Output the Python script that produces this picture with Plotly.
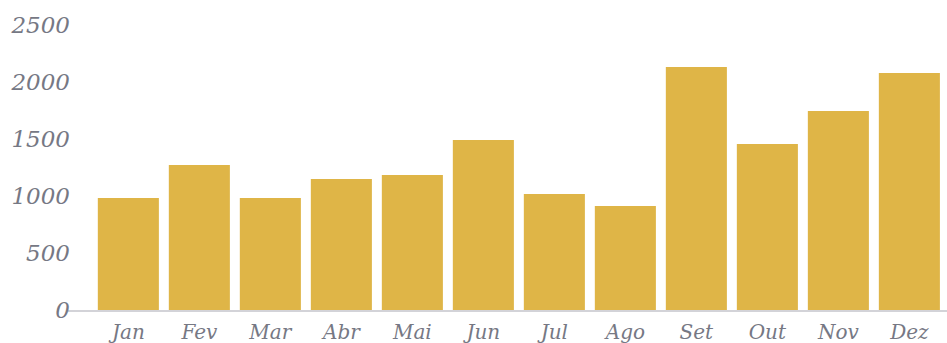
import plotly.graph_objects as go

# Monthly totals
months = ["Jan", "Fev", "Mar", "Abr", "Mai", "Jun", "Jul", "Ago", "Set", "Out", "Nov", "Dez"]
values = [982, 1272, 982, 1149, 1184, 1491, 1018, 912, 2132, 1456, 1746, 2079]
y_ticks = [0, 500, 1000, 1500, 2000, 2500]

BAR_COLOR = "#DFB547"
TEXT_COLOR = "#767884"
FONT = "DejaVu Serif"

fig = go.Figure(
    go.Bar(
        x=list(range(len(months))),
        y=values,
        marker=dict(color=BAR_COLOR, line=dict(width=0)),
        hoverinfo="skip",
    )
)

fig.update_layout(
    width=947,
    height=343,
    margin=dict(l=68, r=0, t=25, b=33),
    paper_bgcolor="white",
    plot_bgcolor="white",
    bargap=0.14,
    showlegend=False,
    font=dict(family=FONT, color=TEXT_COLOR),
)

fig.update_xaxes(
    range=[-0.85, 11.53],
    tickmode="array",
    tickvals=list(range(len(months))),
    ticktext=months,
    tickfont=dict(family=FONT, size=20, color=TEXT_COLOR, style="italic"),
    showgrid=False,
    zeroline=False,
    showline=True,
    linecolor="#D3D3D8",
    linewidth=2,
    ticks="",
    ticklabelstandoff=3,
)

fig.update_yaxes(
    range=[0, 2500],
    tickmode="array",
    tickvals=y_ticks,
    ticktext=[str(v) for v in y_ticks],
    tickfont=dict(family=FONT, size=23, color=TEXT_COLOR, style="italic"),
    showgrid=False,
    zeroline=False,
    showline=False,
    ticks="",
    ticklabelstandoff=-3,
)

fig.write_html("out.html")
